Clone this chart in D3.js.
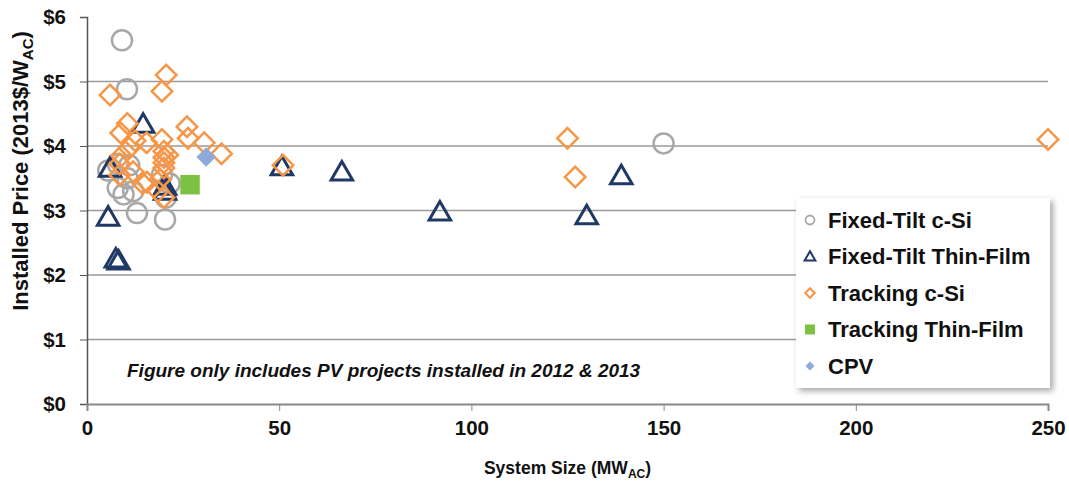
<!DOCTYPE html>
<html>
<head>
<meta charset="utf-8">
<script src="https://cdn.jsdelivr.net/npm/d3@7"></script>
<style>
  body { margin: 0; background: #fff; }
  svg text { font-family: "Liberation Sans", Arial, sans-serif; }
</style>
</head>
<body>
<svg id="chart" width="1069" height="486"></svg>
<script>
// values: [system size MW, price $/W]
const fixedTiltCSi = [
  [9.1, 5.64], [10.4, 4.88], [150, 4.04], [5.5, 3.62], [8, 3.72], [11, 3.7],
  [8, 3.35], [10.5, 3.5], [12, 3.3], [13, 2.96], [20.3, 2.86], [20.5, 3.2],
  [21.5, 3.42], [19.5, 3.55], [9.5, 3.25]
];
const fixedTiltThinFilm = [
  [14.6, 4.34], [6, 3.66], [5.5, 2.9], [7.5, 2.25], [8.2, 2.22], [50.7, 3.68],
  [66.3, 3.6], [91.8, 2.98], [130, 2.92], [139, 3.54], [20.3, 3.38], [20.3, 3.3]
];
const trackingCSi = [
  [6, 4.79], [20.6, 5.1], [19.5, 4.85], [10.5, 4.35], [8.8, 4.2], [12.5, 4.08],
  [15.5, 4.05], [19.5, 4.1], [26, 4.3], [26.3, 4.12], [30.5, 4.05], [35, 3.88],
  [11, 3.97], [9, 3.85], [8.5, 3.72], [14.5, 3.42], [20, 3.92], [20, 3.82],
  [20, 3.74], [20, 3.66], [21, 3.86], [12, 3.6], [8.5, 3.55], [18.5, 3.3],
  [20, 3.2], [51, 3.7], [125, 4.12], [127, 3.52], [250, 4.1], [15.6, 3.44], [19, 3.48]
];
const trackingThinFilm = [[26.8, 3.4]];
const cpv = [[31, 3.83]];

const xTicks = [0, 50, 100, 150, 200, 250];
const yTicks = [0, 1, 2, 3, 4, 5, 6];
const legendLabels = ["Fixed-Tilt c-Si", "Fixed-Tilt Thin-Film", "Tracking c-Si", "Tracking Thin-Film", "CPV"];
const noteText = "Figure only includes PV projects installed in 2012 & 2013";

const svg = d3.select("#chart");
const margin = {left: 87, right: 21, top: 17, bottom: 82};
const width = 1069 - margin.left - margin.right;
const height = 486 - margin.top - margin.bottom;

const x = d3.scaleLinear().domain([0, 250]).range([0, width]);
const y = d3.scaleLinear().domain([0, 6]).range([height, 0]);

const g = svg.append("g").attr("transform", `translate(${margin.left},${margin.top})`);

// gridlines
g.selectAll("line.grid")
  .data(yTicks.filter(d => d > 0 && d < 6))
  .join("line")
  .attr("class", "grid")
  .attr("x1", 0).attr("x2", width)
  .attr("y1", d => y(d)).attr("y2", d => y(d))
  .attr("stroke", "#9a9a9a").attr("stroke-width", 1.5);

// axes
const yAxis = g.append("g")
  .call(d3.axisLeft(y).tickValues(yTicks).tickFormat(d => "$" + d).tickSize(7).tickPadding(14));
yAxis.select(".domain").attr("stroke", "#555").attr("stroke-width", 1.5);
yAxis.selectAll(".tick line").attr("stroke", "#555");
yAxis.selectAll("text").attr("font-size", 20.5).attr("font-weight", "bold").attr("fill", "#111")
  .attr("font-family", "Liberation Sans, Arial, sans-serif");

const xAxis = g.append("g").attr("transform", `translate(0,${height})`)
  .call(d3.axisBottom(x).tickValues(xTicks).tickSize(7).tickPadding(9));
xAxis.select(".domain").attr("stroke", "#888").attr("stroke-width", 2);
xAxis.selectAll(".tick line").attr("stroke", "#888");
xAxis.selectAll("text").attr("font-size", 20.5).attr("font-weight", "bold").attr("fill", "#111")
  .attr("font-family", "Liberation Sans, Arial, sans-serif");

// axis titles
const xt = svg.append("text")
  .attr("x", margin.left + width / 2).attr("y", 474)
  .attr("text-anchor", "middle").attr("font-size", 17.5).attr("font-weight", "bold").attr("fill", "#111");
xt.append("tspan").text("System Size (MW");
xt.append("tspan").attr("font-size", 12).attr("dy", 4).text("AC");
xt.append("tspan").attr("dy", -4).text(")");

const yt = svg.append("text")
  .attr("transform", "translate(28,171) rotate(-90)")
  .attr("text-anchor", "middle").attr("font-size", 22).attr("font-weight", "bold").attr("fill", "#111");
yt.append("tspan").text("Installed Price (2013$/W");
yt.append("tspan").attr("font-size", 15).attr("dy", 5).text("AC");
yt.append("tspan").attr("dy", -5).text(")");

// markers
const plot = g.append("g");
plot.selectAll("circle.fcsi").data(fixedTiltCSi).join("circle")
  .attr("cx", d => x(d[0])).attr("cy", d => y(d[1])).attr("r", 10)
  .attr("fill", "none").attr("stroke", "#a8a8a8").attr("stroke-width", 2.5);

const tri = d3.symbol().type(d3.symbolTriangle).size(200);
plot.selectAll("path.ftf").data(fixedTiltThinFilm).join("path")
  .attr("d", tri).attr("transform", d => `translate(${x(d[0])},${y(d[1]) + 2})`)
  .attr("fill", "none").attr("stroke", "#1f3864").attr("stroke-width", 3);

const dia = d3.symbol().type(d3.symbolSquare).size(210);
plot.selectAll("path.tcsi").data(trackingCSi).join("path")
  .attr("d", dia).attr("transform", d => `translate(${x(d[0])},${y(d[1])}) rotate(45)`)
  .attr("fill", "none").attr("stroke", "#f79646").attr("stroke-width", 2.5);

plot.selectAll("path.ttf").data(trackingThinFilm).join("path")
  .attr("d", d3.symbol().type(d3.symbolSquare).size(380))
  .attr("transform", d => `translate(${x(d[0])},${y(d[1])})`)
  .attr("fill", "#7dc142");

plot.selectAll("path.cpv").data(cpv).join("path")
  .attr("d", d3.symbol().type(d3.symbolSquare).size(190))
  .attr("transform", d => `translate(${x(d[0])},${y(d[1])}) rotate(45)`)
  .attr("fill", "#8eaad8");

// note
svg.append("text")
  .attr("x", 127).attr("y", 377)
  .attr("font-family", "Open Sans, sans-serif").attr("font-style", "italic").attr("font-weight", 600)
  .attr("font-size", 19).attr("fill", "#111")
  .text(noteText);

// legend
const defs = svg.append("defs");
const f = defs.append("filter").attr("id", "shadow").attr("x", "-10%").attr("y", "-10%").attr("width", "130%").attr("height", "130%");
f.append("feDropShadow").attr("dx", 3).attr("dy", 3).attr("stdDeviation", 3).attr("flood-color", "#000").attr("flood-opacity", 0.35);

const lg = svg.append("g").attr("transform", "translate(796,198)");
lg.append("rect").attr("width", 254).attr("height", 190).attr("fill", "#fff").attr("filter", "url(#shadow)");
const rows = lg.selectAll("g.row").data(legendLabels).join("g")
  .attr("transform", (d, i) => `translate(14,${22 + i * 36.5})`);
rows.append("text").attr("x", 18).attr("dy", "0.35em")
  .attr("font-size", 22).attr("font-weight", "bold").attr("fill", "#111").text(d => d);
rows.filter((d, i) => i === 0).append("circle").attr("r", 4.5)
  .attr("fill", "none").attr("stroke", "#a8a8a8").attr("stroke-width", 1.8);
rows.filter((d, i) => i === 1).append("path").attr("d", d3.symbol().type(d3.symbolTriangle).size(50))
  .attr("transform", "translate(0,1)").attr("fill", "none").attr("stroke", "#1f3864").attr("stroke-width", 2);
rows.filter((d, i) => i === 2).append("path").attr("d", d3.symbol().type(d3.symbolSquare).size(45))
  .attr("transform", "rotate(45)").attr("fill", "none").attr("stroke", "#f79646").attr("stroke-width", 2);
rows.filter((d, i) => i === 3).append("rect").attr("x", -5).attr("y", -5).attr("width", 10).attr("height", 10)
  .attr("fill", "#7dc142");
rows.filter((d, i) => i === 4).append("path").attr("d", d3.symbol().type(d3.symbolSquare).size(40))
  .attr("transform", "rotate(45)").attr("fill", "#8eaad8");
</script>
</body>
</html>
